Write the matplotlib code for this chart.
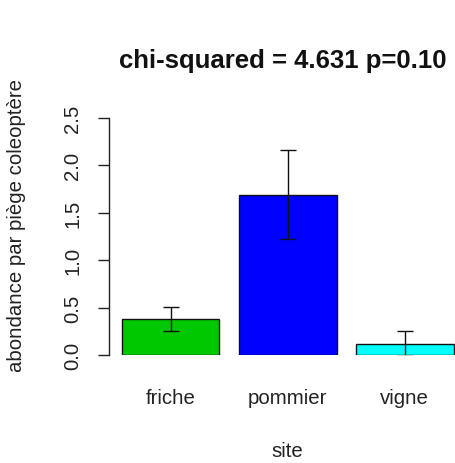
import matplotlib
matplotlib.use("Agg")
import matplotlib.pyplot as plt
import numpy as np

sites = ["friche", "pommier", "vigne"]
means = [0.38, 1.69, 0.12]
errors = [0.125, 0.47, 0.135]
colours = ["#00c800", "#0000ff", "#00ffff"]
yticks = [0.0, 0.5, 1.0, 1.5, 2.0, 2.5]
title = "chi-squared = 4.631 p=0.10"

plt.rcParams['font.family'] = ['Liberation Sans', 'DejaVu Sans']

W, H = 456, 464
fig = plt.figure(figsize=(W / 100, H / 100), dpi=100)
# plot region like R's, it runs past the right edge of the picture
left, right, bottom, top = 108.7, 466.8, 356, 96
ax = fig.add_axes([left / W, (H - bottom) / H, (right - left) / W, (bottom - top) / H])

# R barplot: width 1, space 0.2
x = 0.7 + 1.2 * np.arange(len(sites))
ax.bar(x, means, width=1.0, color=colours, edgecolor="#111111", linewidth=1.0)
ax.errorbar(x, means, yerr=errors, fmt="none", ecolor="#111111",
            elinewidth=1.0, capsize=5.5, capthick=1.0)

ax.set_xlim(0.064, 3.736)
ax.set_ylim(0, 2.74)

for s in ["top", "right", "bottom"]:
    ax.spines[s].set_visible(False)
ax.spines["left"].set_bounds(0, 2.5)
ax.spines["left"].set_linewidth(1.0)
ax.spines["left"].set_color("#222222")

ax.set_yticks(yticks)
ax.set_yticklabels(["%.1f" % v for v in yticks], rotation=90, va="center")
ax.tick_params(axis="y", length=8, width=1.0, colors="#222222", pad=11,
               labelsize=14.7, labelcolor="#222222")

ax.set_xticks(x)
ax.set_xticklabels(sites)
ax.tick_params(axis="x", length=0, pad=24, labelsize=14.7, labelcolor="#222222")

ax.set_xlabel("site", fontsize=14.7, color="#222222", labelpad=24)
fig.text(17 / W, 1 - 226 / H, "abondance par piège coleoptère", rotation=90,
         ha="center", va="center", fontsize=14.7, color="#222222")
fig.text(283 / W, 1 - 61 / H, title, ha="center", va="center",
         fontsize=18.5, fontweight="bold", color="#111111")

fig.savefig("out.png", dpi=100)
